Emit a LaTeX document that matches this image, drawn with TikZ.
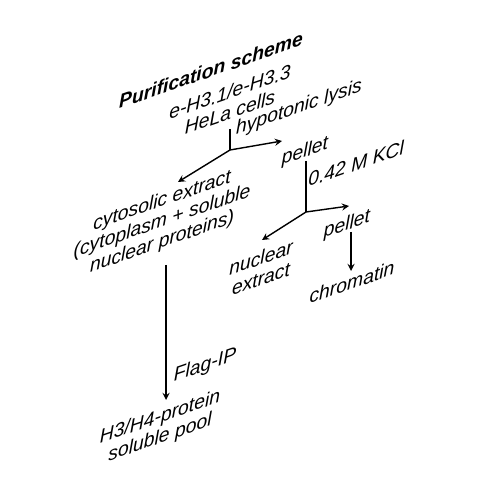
\documentclass[tikz,border=0pt]{standalone}
\usepackage{fontspec}
\setmainfont{Liberation Sans}

\begin{document}
\begin{tikzpicture}[>=stealth,
  lbl/.style={font=\fontsize{11}{11.7}\selectfont\itshape, align=center, inner sep=0pt},
  line/.style={line width=0.8pt}]
\useasboundingbox (0,0) rectangle (10,10);
% texts
\node[yslant=0.346, lbl, font=\fontsize{11}{11.7}\selectfont\bfseries\itshape] (title) at (4.22,8.60) {Purification scheme};
\node[yslant=0.346, lbl] (cells) at (4.60,7.96) {e-H3.1/e-H3.3\\HeLa cells};
\node[yslant=0.346, lbl] (lysis) at (5.98,7.84) {hypotonic lysis};
\node[yslant=0.346, lbl] (pellet1) at (6.10,6.96) {pellet};
\node[yslant=0.346, lbl, anchor=base west] (kcl) at (6.16,6.26) {0.42 M KCl};
\node[yslant=0.346, lbl] (cyto) at (3.24,5.56) {cytosolic extract\\(cytoplasm + soluble\\nuclear proteins)};
\node[yslant=0.346, lbl] (nucl) at (5.22,4.64) {nuclear\\extract};
\node[yslant=0.346, lbl] (pellet2) at (6.94,5.50) {pellet};
\node[yslant=0.346, lbl] (chrom) at (7.04,4.36) {chromatin};
\node[yslant=0.346, lbl] (flag) at (4.10,2.68) {Flag-IP};
\node[yslant=0.346, lbl] (pool) at (3.20,1.44) {H3/H4-protein\\soluble pool};
% branch points and tips
\coordinate (s1top) at (4.60,7.42);
\coordinate (s1) at (4.60,7.00);
\coordinate (t1r) at (5.64,7.18);
\coordinate (t1l) at (3.56,6.36);
\coordinate (s2top) at (6.12,6.78);
\coordinate (s2) at (6.12,5.76);
\coordinate (t2r) at (6.98,5.88);
\coordinate (t2l) at (5.24,5.20);
\coordinate (c1) at (7.02,5.36);
\coordinate (c2) at (7.02,4.58);
\coordinate (f1) at (3.32,4.70);
\coordinate (f2) at (3.32,2.00);
\draw[line] (s1top) -- (s1);
\draw[line,->] (s1) -- (t1r);
\draw[line,->] (s1) -- (t1l);
\draw[line] (s2top) -- (s2);
\draw[line,->] (s2) -- (t2r);
\draw[line,->] (s2) -- (t2l);
\draw[line,->] (c1) -- (c2);
\draw[line,->] (f1) -- (f2);
\end{tikzpicture}
\end{document}
